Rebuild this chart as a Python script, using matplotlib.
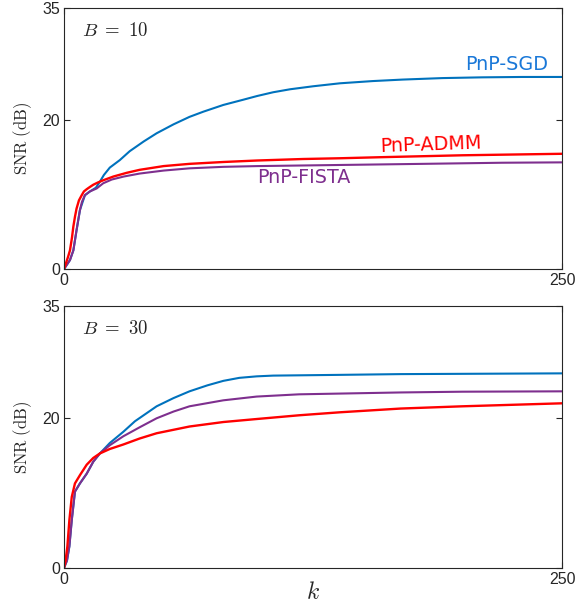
import matplotlib.pyplot as plt

plt.rcParams['mathtext.fontset'] = 'cm'

# B = 10 panel
k_sgd_10 = [0, 3, 4.7, 6.3, 8, 10.5, 13, 16, 18, 20, 23, 28, 33, 40, 46.5, 55, 63, 70, 80, 90, 97, 105, 113.5,
            125, 138.5, 155, 170, 190, 210, 230, 250]
snr_sgd_10 = [0, 1.2, 2.5, 5.2, 7.9, 9.9, 10.4, 10.9, 11.7, 12.6, 13.6, 14.6, 15.8, 17.1, 18.2, 19.4, 20.4, 21.1,
              22.0, 22.7, 23.2, 23.7, 24.1, 24.5, 24.9, 25.2, 25.4, 25.6, 25.7, 25.75, 25.75]
k_admm_10 = [0, 1, 2, 3, 4, 4.7, 5.5, 6.3, 7.5, 8.9, 10, 11.4, 13, 14.7, 17, 19.7, 24.8, 31.5, 38, 50, 63, 80,
             97, 120, 138.5, 160, 200, 250]
snr_admm_10 = [0, 0.8, 1.6, 2.5, 4.2, 5.7, 7.0, 8.1, 9.2, 9.9, 10.4, 10.7, 11.0, 11.3, 11.6, 11.9, 12.4, 12.9,
               13.3, 13.8, 14.1, 14.35, 14.55, 14.75, 14.85, 15.0, 15.25, 15.45]
k_fista_10 = [0, 3, 4.7, 6.3, 8, 9, 10.5, 13, 16.4, 19.7, 24, 30, 38, 50, 63, 80, 97, 138.5, 180, 220, 250]
snr_fista_10 = [0, 1.2, 2.5, 5.2, 7.9, 9.0, 9.9, 10.4, 10.8, 11.5, 12.0, 12.4, 12.8, 13.2, 13.5, 13.7, 13.8,
                13.95, 14.1, 14.25, 14.3]

# B = 30 panel
k_admm_30 = [0, 0.8, 1.7, 2.7, 3.9, 5.5, 8, 11.4, 14.7, 18, 23, 29.8, 38, 46.5, 63, 80, 96.7, 118, 138.5, 169,
             200, 250]
snr_admm_30 = [0, 1.0, 2.9, 6.4, 9.5, 11.3, 12.4, 13.8, 14.7, 15.3, 15.9, 16.5, 17.3, 18.0, 18.9, 19.5, 19.9,
               20.4, 20.8, 21.3, 21.6, 22.0]
k_fista_30 = [0, 1.5, 2.7, 3.9, 5.5, 8, 11.4, 14.7, 18, 23, 29.8, 38, 46.5, 55, 63, 80, 96.7, 118, 138.5, 169,
              200, 250]
snr_fista_30 = [0, 1.0, 2.9, 6.4, 10.2, 11.3, 12.6, 14.2, 15.3, 16.4, 17.6, 18.8, 20.0, 20.9, 21.6, 22.4, 22.9,
                23.2, 23.3, 23.45, 23.55, 23.6]
k_sgd_30 = [0, 1.5, 2.7, 3.9, 5.5, 8, 11.4, 14.7, 18, 23, 29.8, 35.6, 46.5, 55, 63, 72, 80, 88, 96.7, 105,
            138.5, 169, 250]
snr_sgd_30 = [0, 1.0, 2.9, 6.4, 10.2, 11.3, 12.6, 14.2, 15.3, 16.7, 18.2, 19.6, 21.6, 22.7, 23.6, 24.4, 25.0,
              25.4, 25.6, 25.7, 25.8, 25.9, 26.0]

c_sgd = '#0072BD'
c_admm = '#FF0000'
c_fista = '#7E2F8E'
c_axis = '#262626'

fig = plt.figure(figsize=(5.75, 6.04), dpi=100)
ax1 = fig.add_axes([0.1113, 0.5546, 0.8661, 0.4322])
ax2 = fig.add_axes([0.1113, 0.0596, 0.8661, 0.4338])

ax1.plot(k_sgd_10, snr_sgd_10, color=c_sgd, lw=1.5)
ax1.plot(k_fista_10, snr_fista_10, color=c_fista, lw=1.5)
ax1.plot(k_admm_10, snr_admm_10, color=c_admm, lw=1.7)

ax2.plot(k_sgd_30, snr_sgd_30, color=c_sgd, lw=1.5)
ax2.plot(k_fista_30, snr_fista_30, color=c_fista, lw=1.5)
ax2.plot(k_admm_30, snr_admm_30, color=c_admm, lw=1.7)

# curve labels (top panel only)
ax1.text(243, 27.4, "PnP-SGD", color='#1a78d8', fontsize=13.8, ha='right', va='center', family='DejaVu Sans')
ax1.text(158.5, 16.6, "PnP-ADMM", color=c_admm, fontsize=13.8, ha='left', va='center', rotation=2,
         family='DejaVu Sans')
ax1.text(120.5, 12.3, "PnP-FISTA", color=c_fista, fontsize=13.8, ha='center', va='center', family='DejaVu Sans')

for ax, lab in [(ax1, r'$B\ =\ 10$'), (ax2, r'$B\ =\ 30$')]:
    ax.set_xlim(0, 250)
    ax.set_ylim(0, 35)
    ax.set_xticks([0, 250])
    ax.set_yticks([0, 20, 35])
    ax.tick_params(direction='in', top=True, right=True, length=4, width=0.8, colors=c_axis,
                   labelsize=11.5, pad=3)
    for lbl in ax.get_xticklabels() + ax.get_yticklabels():
        lbl.set_family('Liberation Sans')
    for sp in ax.spines.values():
        sp.set_color(c_axis)
        sp.set_linewidth(0.8)
    ax.set_ylabel(r'$\mathrm{SNR\ (dB)}$', fontsize=12, labelpad=6, color=c_axis)
    ax.text(0.036, 0.915, lab, transform=ax.transAxes, fontsize=13.5, ha='left', va='center', color=c_axis)

fig.text(313 / 575, 1 - 592 / 604, r'$k$', fontsize=17, ha='center', va='center', color=c_axis)

plt.savefig('out.png', dpi=100)
